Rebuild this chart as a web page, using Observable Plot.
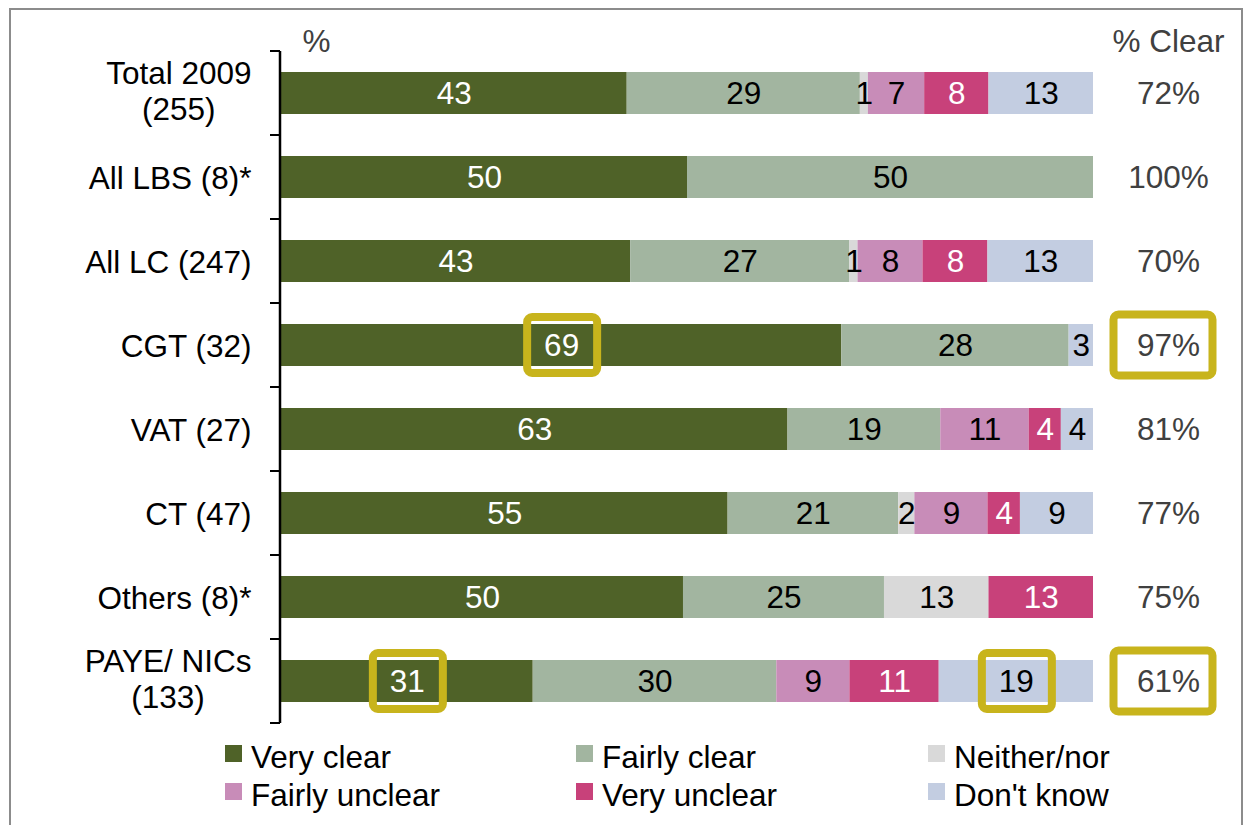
<!DOCTYPE html>
<html><head><meta charset="utf-8">
<script src="https://cdn.jsdelivr.net/npm/d3@7"></script>
<script src="https://cdn.jsdelivr.net/npm/@observablehq/plot@0.6"></script>
<style>
html,body{margin:0;padding:0;background:#fff;}
#wrap{position:relative;width:1246px;height:825px;overflow:hidden;font-family:"Liberation Sans",Arial,sans-serif;}
#frame{position:absolute;left:9px;top:8px;width:1234px;height:840px;border:2px solid #8c8c8c;box-sizing:border-box;}
#chart{position:absolute;left:0;top:0;}
.lgt{position:absolute;font-size:31.5px;line-height:32px;color:#000;white-space:nowrap;}
.sw{position:absolute;width:17px;height:17px;}
</style></head>
<body><div id="wrap"><div id="frame"></div><div id="chart"></div><div id="legend"></div></div>
<script>
// ---- data ----
const categories = ["Total 2009\n(255)", "All LBS (8)*", "All LC (247)", "CGT (32)", "VAT (27)", "CT (47)", "Others (8)*", "PAYE/ NICs\n(133)"];
const seriesNames = ["Very clear", "Fairly clear", "Neither/nor", "Fairly unclear", "Very unclear", "Don't know"];
const veryClear     = [43, 50, 43, 69, 63, 55, 50, 31];
const fairlyClear   = [29, 50, 27, 28, 19, 21, 25, 30];
const neitherNor    = [1, 0, 1, 0, 0, 2, 13, 0];
const fairlyUnclear = [7, 0, 8, 0, 11, 9, 0, 9];
const veryUnclear   = [8, 0, 8, 0, 4, 4, 13, 11];
const dontKnow      = [13, 0, 13, 3, 4, 9, 0, 19];
const pctClear = ["72%", "100%", "70%", "97%", "81%", "77%", "75%", "61%"];
const highlightRows   = ["CGT (32)", "CGT (32)", "PAYE/ NICs\n(133)", "PAYE/ NICs\n(133)", "PAYE/ NICs\n(133)"];
const highlightSeries = ["Very clear", "% Clear", "Very clear", "Don't know", "% Clear"];

// ---- styles ----
const colors = ["#4F6228", "#A2B5A0", "#D9D9D9", "#C88CB8", "#C8417A", "#C3CDE1"];
const whiteLabelSeries = new Set(["Very clear", "Very unclear"]);
const gold = "#C8B41C";
const clearDx = 75;
const fs = 31.5;
const font = "'Liberation Sans', Arial, sans-serif";

// ---- table ----
const valuesBySeries = [veryClear, fairlyClear, neitherNor, fairlyUnclear, veryUnclear, dontKnow];
const table = [];
categories.forEach((cat, i) => {
  const total = d3.sum(valuesBySeries, s => s[i]);
  let acc = 0;
  seriesNames.forEach((s, j) => {
    const v = valuesBySeries[j][i];
    table.push({cat, series: s, value: v, x1: acc / total, x2: (acc + v) / total, mid: (acc + v / 2) / total});
    acc += v;
  });
});
const segs = table.filter(d => d.value > 0);
const clearTable = categories.map((cat, i) => ({cat, pct: pctClear[i]}));
const highlights = highlightRows.map((cat, i) => ({cat, series: highlightSeries[i]}));

// custom marks using the plot's scales
const boundaryTicks = (index, scales, values, dims) => {
  const y = scales.y;
  const g = d3.create("svg:g");
  const step = y.step ? y.step() : (dims.height - dims.marginTop - dims.marginBottom) / categories.length;
  const bw = y.bandwidth();
  const edges = categories.map(c => y(c) - (step - bw) / 2);
  edges.push(edges[edges.length - 1] + step);
  for (const e of edges) {
    g.append("line").attr("x1", dims.marginLeft - 11).attr("x2", dims.marginLeft - 1)
      .attr("y1", e).attr("y2", e).attr("stroke", "#000").attr("stroke-width", 2);
  }
  return g.node();
};
const highlightMark = (index, scales, values, dims) => {
  const {x, y} = scales;
  const bw = y.bandwidth();
  const g = d3.create("svg:g");
  for (const h of highlights) {
    const cy = y(h.cat) + bw / 2;
    let cx, w, hh;
    if (h.series === "% Clear") { cx = x(1) + clearDx - 5; w = 99; hh = 61; }
    else {
      const r = table.find(d => d.cat === h.cat && d.series === h.series);
      cx = x(r.mid) + 1; w = 70; hh = 56;
    }
    g.append("rect").attr("x", cx - w / 2).attr("y", cy - hh / 2).attr("width", w).attr("height", hh)
      .attr("rx", 5).attr("fill", "none").attr("stroke", gold).attr("stroke-width", 8);
  }
  return g.node();
};

const plot = Plot.plot({
  width: 1246,
  height: 735,
  marginLeft: 281,
  marginRight: 153,
  marginTop: 51,
  marginBottom: 12,
  style: {fontFamily: font, fontSize: fs + "px", background: "transparent", overflow: "visible"},
  x: {domain: [0, 1], axis: null},
  y: {domain: categories, paddingInner: 0.5, paddingOuter: 0.25, round: false, axis: null},
  color: {domain: seriesNames, range: colors},
  marks: [
    Plot.barX(table, {x1: "x1", x2: "x2", y: "cat", fill: "series"}),
    Plot.text(segs.filter(d => !whiteLabelSeries.has(d.series)), {x: "mid", y: "cat", text: d => String(d.value), fill: "#000", fontSize: fs}),
    Plot.text(segs.filter(d => whiteLabelSeries.has(d.series)), {x: "mid", y: "cat", text: d => String(d.value), fill: "#fff", fontSize: fs}),
    Plot.text(clearTable, {y: "cat", text: "pct", frameAnchor: "right", dx: clearDx, textAnchor: "middle", fill: "#404040", fontSize: fs}),
    Plot.text(["% Clear"], {frameAnchor: "top-right", text: d => d, dx: clearDx, textAnchor: "middle", lineAnchor: "bottom", fill: "#404040", fontSize: fs}),
    Plot.text(["%"], {frameAnchor: "top-left", text: d => d, dx: 21, textAnchor: "start", lineAnchor: "bottom", fill: "#404040", fontSize: fs}),
    Plot.axisY({tickSize: 0, tickPadding: 30, fontSize: fs, label: null, lineHeight: 1.13, fill: "#000"}),
    Plot.ruleX([0], {stroke: "#000", strokeWidth: 2.5, dx: -1.5}),
    boundaryTicks,
    highlightMark
  ]
});
document.getElementById("chart").appendChild(plot);

// center multi-line axis labels within their block (Excel style), nudge block up slightly
plot.querySelectorAll('[aria-label="y-axis tick label"] text').forEach(t => {
  const spans = t.querySelectorAll("tspan");
  if (spans.length < 2) return;
  const lens = Array.from(spans, s => s.getComputedTextLength());
  const W = Math.max(...lens);
  spans.forEach((s, i) => s.setAttribute("x", -(W - lens[i]) / 2));
  spans[0].setAttribute("y", "-0.29em");
});

// legend
const legend = document.getElementById("legend");
const colLeft = [225, 576, 928], rowTop = [745, 783];
seriesNames.forEach((s, i) => {
  const c = i % 3, r = Math.floor(i / 3);
  const sw = document.createElement("div");
  sw.className = "sw";
  sw.style.left = colLeft[c] + "px"; sw.style.top = rowTop[r] + "px"; sw.style.background = colors[i];
  legend.appendChild(sw);
  const t = document.createElement("div");
  t.className = "lgt";
  t.style.left = (colLeft[c] + 26) + "px"; t.style.top = (rowTop[r] - 4) + "px";
  t.textContent = s;
  legend.appendChild(t);
});
</script>
</body></html>
